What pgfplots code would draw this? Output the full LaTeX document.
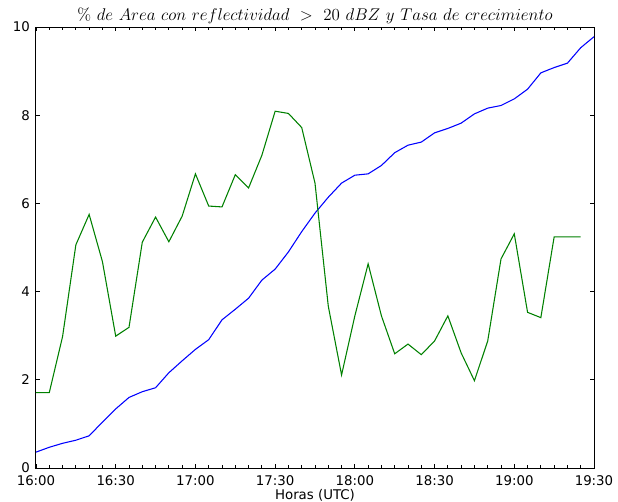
\documentclass[border=0pt]{standalone}
\usepackage[no-math]{fontspec}
\setmainfont{DejaVu Sans}
\usepackage{pgfplots}
\pgfplotsset{compat=1.18}
\begin{document}
\begin{tikzpicture}[x=1pt,y=1pt]
\begin{axis}[
  name=ax,
  scale only axis,
  width=418.5pt, height=330.75pt,
  xmin=0, xmax=210, ymin=0, ymax=10,
  xtick={0,30,...,210},
  xticklabels={16:00,16:30,17:00,17:30,18:00,18:30,19:00,19:30},
  minor xtick={0,5,...,210},
  ytick={0,2,...,10},
  tick align=inside,
  major tick length=3.3pt,
  minor tick length=2.2pt,
  every tick/.style={black, line width=0.6pt},
  axis line style={black, line width=0.75pt},
  tick label style={font=\fontsize{10}{12}\selectfont},
  /pgf/number format/assume math mode=true,
  xlabel={Horas (UTC)},
  xlabel style={font=\fontsize{10}{12}\selectfont, yshift=4pt},
  title={$\%\ de\ Area\ con\ reflectividad\ >\ 20\ dBZ\ y\ Tasa\ de\ crecimiento$},
  title style={font=\fontsize{12.6}{15}\selectfont, scale=1.06, yshift=-7pt},
  xticklabel style={yshift=-2pt},
  yticklabel style={xshift=-1pt},
]
\addplot[color={rgb,255:red,0;green,0;blue,255}, line width=0.8pt] coordinates {
(0,0.36)(5,0.47)(10,0.56)(15,0.63)(20,0.73)(25,1.04)(30,1.34)(35,1.60)(40,1.73)(45,1.82)
(50,2.16)(55,2.43)(60,2.69)(65,2.91)(70,3.36)(75,3.60)(80,3.85)(85,4.26)(90,4.51)(95,4.90)
(100,5.36)(105,5.78)(110,6.14)(115,6.46)(120,6.64)(125,6.67)(130,6.86)(135,7.15)(140,7.32)(145,7.39)
(150,7.60)(155,7.70)(160,7.82)(165,8.03)(170,8.16)(175,8.22)(180,8.37)(185,8.59)(190,8.96)(195,9.08)
(200,9.18)(205,9.53)(210,9.78)
};
\addplot[color={rgb,255:red,0;green,128;blue,0}, line width=0.8pt] coordinates {
(0,1.71)(5,1.71)(10,2.98)(15,5.06)(20,5.75)(25,4.68)(30,2.99)(35,3.19)(40,5.12)(45,5.69)
(50,5.13)(55,5.71)(60,6.67)(65,5.94)(70,5.92)(75,6.65)(80,6.35)(85,7.09)(90,8.09)(95,8.04)
(100,7.72)(105,6.46)(110,3.67)(115,2.11)(120,3.45)(125,4.63)(130,3.45)(135,2.59)(140,2.81)(145,2.57)
(150,2.88)(155,3.45)(160,2.61)(165,1.98)(170,2.88)(175,4.74)(180,5.31)(185,3.53)(190,3.41)(195,5.24)
(200,5.24)(205,5.24)
};
\end{axis}
\pgfresetboundingbox
\path ([xshift=-27pt,yshift=-24.75pt]ax.south west) rectangle ([xshift=18pt,yshift=20.25pt]ax.north east);
\end{tikzpicture}
\end{document}
